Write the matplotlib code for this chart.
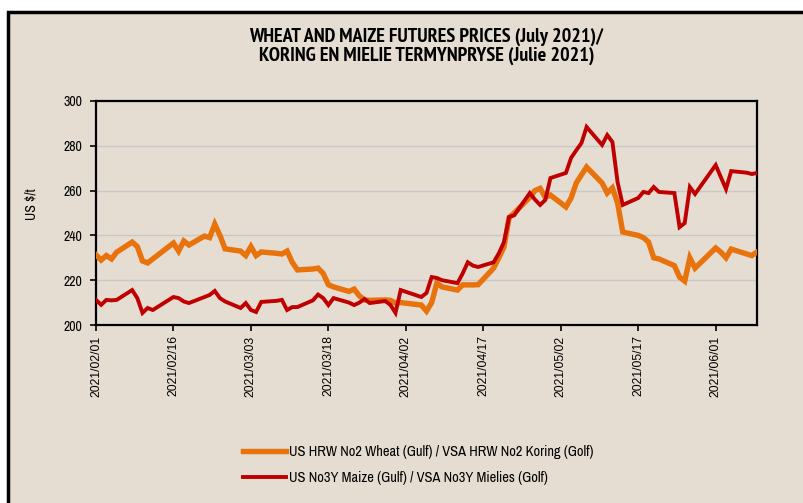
import matplotlib
matplotlib.use('Agg')
import matplotlib.pyplot as plt
import matplotlib.dates as mdates
from matplotlib import font_manager
from matplotlib.patches import Rectangle
import pandas as pd

# Wheat (orange) - US HRW No2 Gulf, $/t
wheat_dates = ['2021-02-01', '2021-02-02', '2021-02-03', '2021-02-04', '2021-02-05',
               '2021-02-08', '2021-02-09', '2021-02-10', '2021-02-11', '2021-02-12',
               '2021-02-16', '2021-02-17', '2021-02-18', '2021-02-19',
               '2021-02-22', '2021-02-23', '2021-02-24', '2021-02-25', '2021-02-26',
               '2021-03-01', '2021-03-02', '2021-03-03', '2021-03-04', '2021-03-05',
               '2021-03-08', '2021-03-09', '2021-03-10', '2021-03-11', '2021-03-12',
               '2021-03-15', '2021-03-16', '2021-03-17', '2021-03-18', '2021-03-19',
               '2021-03-22', '2021-03-23', '2021-03-24', '2021-03-25', '2021-03-26',
               '2021-03-29', '2021-03-30', '2021-03-31', '2021-04-01',
               '2021-04-05', '2021-04-06', '2021-04-07', '2021-04-08', '2021-04-09',
               '2021-04-12', '2021-04-13', '2021-04-14', '2021-04-15', '2021-04-16',
               '2021-04-19', '2021-04-20', '2021-04-21', '2021-04-22', '2021-04-23',
               '2021-04-26', '2021-04-27', '2021-04-28', '2021-04-29', '2021-04-30',
               '2021-05-03', '2021-05-04', '2021-05-05', '2021-05-06', '2021-05-07',
               '2021-05-10', '2021-05-11', '2021-05-12', '2021-05-13', '2021-05-14',
               '2021-05-17', '2021-05-18', '2021-05-19', '2021-05-20', '2021-05-21',
               '2021-05-24', '2021-05-25', '2021-05-26', '2021-05-27', '2021-05-28',
               '2021-06-01', '2021-06-02', '2021-06-03', '2021-06-04',
               '2021-06-07', '2021-06-08', '2021-06-09']
wheat_values = [231.3, 229.0, 231.0, 229.5, 232.5,
                237.0, 235.0, 228.6, 227.7, 229.5,
                236.6, 233.0, 237.5, 235.7,
                239.7, 239.0, 245.0, 240.0, 234.0,
                233.0, 231.0, 235.0, 231.0, 232.6,
                232.0, 231.7, 233.0, 228.0, 224.6,
                225.0, 225.4, 223.0, 218.0, 217.0,
                215.0, 216.0, 213.0, 211.2, 211.0,
                211.2, 211.0, 209.8, 210.0,
                208.9, 206.2, 210.0, 218.7, 217.0,
                215.6, 217.9, 217.9, 217.9, 218.0,
                225.4, 230.0, 234.8, 248.0, 250.0,
                257.0, 260.0, 261.0, 257.0, 258.0,
                252.7, 256.7, 263.4, 267.0, 270.5,
                263.4, 258.9, 261.2, 254.5, 241.5,
                240.0, 239.0, 237.0, 230.0, 229.5,
                226.5, 221.4, 219.6, 230.0, 225.4,
                234.4, 232.5, 230.0, 233.9,
                231.7, 231.0, 232.6]

# Maize (red) - US No3Y Gulf, $/t
maize_dates = ['2021-02-01', '2021-02-02', '2021-02-03', '2021-02-04', '2021-02-05',
               '2021-02-08', '2021-02-09', '2021-02-10', '2021-02-11', '2021-02-12',
               '2021-02-16', '2021-02-17', '2021-02-18', '2021-02-19',
               '2021-02-22', '2021-02-23', '2021-02-24', '2021-02-25', '2021-02-26',
               '2021-03-01', '2021-03-02', '2021-03-03', '2021-03-04', '2021-03-05',
               '2021-03-08', '2021-03-09', '2021-03-10', '2021-03-11', '2021-03-12',
               '2021-03-15', '2021-03-16', '2021-03-17', '2021-03-18', '2021-03-19',
               '2021-03-22', '2021-03-23', '2021-03-24', '2021-03-25', '2021-03-26',
               '2021-03-29', '2021-03-30', '2021-03-31', '2021-04-01',
               '2021-04-05', '2021-04-06', '2021-04-07', '2021-04-08', '2021-04-09',
               '2021-04-12', '2021-04-13', '2021-04-14', '2021-04-15', '2021-04-16',
               '2021-04-19', '2021-04-20', '2021-04-21', '2021-04-22', '2021-04-23',
               '2021-04-26', '2021-04-27', '2021-04-28', '2021-04-29', '2021-04-30',
               '2021-05-03', '2021-05-04', '2021-05-05', '2021-05-06', '2021-05-07',
               '2021-05-10', '2021-05-11', '2021-05-12', '2021-05-13', '2021-05-14',
               '2021-05-17', '2021-05-18', '2021-05-19', '2021-05-20', '2021-05-21',
               '2021-05-24', '2021-05-25', '2021-05-26', '2021-05-27', '2021-05-28',
               '2021-06-01', '2021-06-02', '2021-06-03', '2021-06-04',
               '2021-06-07', '2021-06-08', '2021-06-09']
maize_values = [211.2, 209.0, 211.2, 211.0, 211.2,
                215.6, 212.0, 205.4, 207.6, 206.7,
                212.5, 212.0, 210.5, 209.8,
                212.5, 213.4, 215.2, 212.0, 210.5,
                207.6, 209.8, 206.7, 205.8, 210.3,
                210.8, 211.2, 206.7, 208.0, 208.0,
                211.0, 213.6, 212.0, 208.9, 212.0,
                210.0, 208.9, 210.0, 211.6, 209.8,
                210.7, 209.0, 205.4, 215.6,
                212.5, 214.3, 221.4, 221.0, 220.0,
                218.7, 223.0, 228.0, 226.5, 225.9,
                228.0, 232.0, 237.0, 248.2, 249.0,
                258.9, 256.0, 253.6, 255.8, 265.6,
                267.9, 274.6, 278.0, 281.2, 288.4,
                280.4, 284.8, 281.7, 263.8, 253.6,
                256.7, 259.4, 258.9, 261.6, 259.4,
                258.9, 243.7, 245.5, 261.6, 258.5,
                271.4, 266.0, 260.7, 268.7,
                268.0, 267.4, 267.9]

wheat_label = 'US HRW No2 Wheat (Gulf) / VSA HRW No2 Koring (Golf)'
maize_label = 'US No3Y Maize (Gulf) / VSA No3Y Mielies (Golf)'
title = 'WHEAT AND MAIZE FUTURES PRICES (July 2021)/\nKORING EN MIELIE TERMYNPRYSE (Julie 2021)'

# the original uses Arial Narrow - take a narrow face if one is installed
candidates = ['Liberation Sans Narrow', 'Arial Narrow', 'Archivo Narrow',
              'PT Sans Narrow', 'Roboto Condensed']
faces = {}
for f in font_manager.fontManager.ttflist:
    w = f.weight if isinstance(f.weight, int) else (700 if f.weight == 'bold' else 400)
    faces.setdefault(f.name, set()).add(w)

narrow = next((c for c in candidates if c in faces), 'Liberation Sans')
bold_narrow = next((c for c in candidates if c in faces and max(faces[c]) >= 700), None)

if narrow == 'Liberation Sans':
    tick_size, legend_size, ylab_size = 8.3, 8.6, 8.8
else:
    tick_size, legend_size, ylab_size = 10, 10.4, 10
if bold_narrow:
    title_font, title_size = bold_narrow, 14.5
else:
    title_font, title_size = 'Liberation Sans', 10.7

fig = plt.figure(figsize=(8.04, 5.03), dpi=100, facecolor='white')

# beige panel behind the chart
panel = Rectangle((8 / 804, -0.05), 1.1, 1 - 12 / 503 + 0.05, transform=fig.transFigure,
                  facecolor='#e5ddd1', edgecolor='black', linewidth=2.5, zorder=-10)
fig.patches.append(panel)

ax = fig.add_axes([96 / 804, 1 - 325 / 503, (757 - 96) / 804, (325 - 101) / 503])
ax.set_zorder(1)
ax.set_facecolor('none')

ax.plot(pd.to_datetime(wheat_dates), wheat_values, color='#e8720c', linewidth=3.9,
        solid_joinstyle='miter', label=wheat_label, zorder=3)
ax.plot(pd.to_datetime(maize_dates), maize_values, color='#c00000', linewidth=2.8,
        solid_joinstyle='miter', label=maize_label, zorder=4)

ax.set_ylim(200, 300)
ax.set_yticks(range(200, 301, 20))
ax.set_xlim(pd.Timestamp('2021-02-01'), pd.Timestamp('2021-06-09'))
ax.set_xticks(pd.date_range('2021-02-01', '2021-06-09', freq='15D'))
ax.xaxis.set_major_formatter(mdates.DateFormatter('%Y/%m/%d'))

ax.grid(axis='y', color='#c8c8c8', linewidth=1.0)
ax.set_axisbelow(True)
for s in ax.spines.values():
    s.set_linewidth(1.6)
    s.set_color('black')

ax.tick_params(axis='both', direction='out', length=4, width=1.2, colors='black')
ax.tick_params(axis='y', pad=6)
for lbl in ax.get_xticklabels():
    lbl.set_rotation(90)
    lbl.set_fontfamily('Liberation Sans')
    lbl.set_fontsize(8.7)
for lbl in ax.get_yticklabels():
    lbl.set_fontfamily(narrow)
    lbl.set_fontsize(tick_size)

ax.set_ylabel('US $/t', fontfamily=narrow, fontsize=ylab_size)
ax.yaxis.set_label_coords(-0.0877, 0.54)

fig.text(426.5 / 804, 1 - 46.5 / 503, title, ha='center', va='center',
         fontfamily=title_font, fontsize=title_size, fontweight='bold', linespacing=1.1)

ax.legend(loc='upper left', bbox_to_anchor=(230 / 804, 1 - 432 / 503),
          bbox_transform=fig.transFigure, frameon=False, handlelength=3.0,
          handletextpad=0.2, labelspacing=0.8,
          prop={'family': narrow, 'size': legend_size})

fig.savefig('out.png', dpi=100, facecolor='white')
